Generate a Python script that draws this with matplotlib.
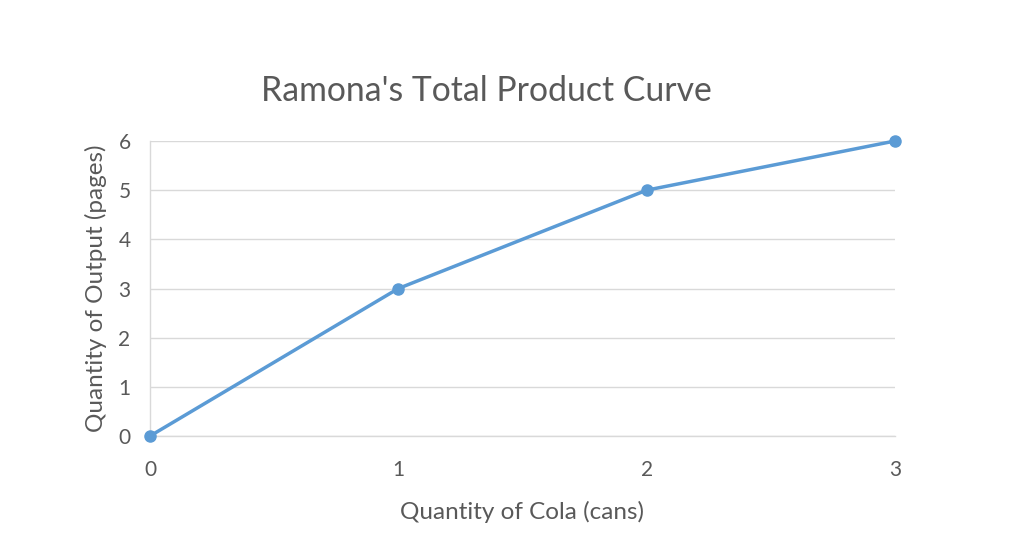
import matplotlib.pyplot as plt

# data
cola_cans = [0, 1, 2, 3]
output_pages = [0, 3, 5, 6]
y_ticks = [0, 1, 2, 3, 4, 5, 6]

line_color = '#5B9BD5'
text_color = '#595959'
grid_color = '#D9D9D9'

plt.rcParams['font.family'] = ['Lato', 'DejaVu Sans']

fig = plt.figure(figsize=(10.24, 5.56), dpi=100)
ax = fig.add_axes([0.1465, 0.2158, 0.7275, 0.5306])

ax.plot(cola_cans, output_pages, color=line_color, linewidth=2.5,
        marker='o', markersize=8, clip_on=False, zorder=3)

ax.set_xlim(0, 3)
ax.set_ylim(0, 6)
ax.set_xticks(cola_cans)
ax.set_yticks(y_ticks)
ax.yaxis.grid(True, color=grid_color, linewidth=1)
ax.set_axisbelow(True)

for side in ['top', 'right']:
    ax.spines[side].set_visible(False)
for side in ['left', 'bottom']:
    ax.spines[side].set_color(grid_color)
    ax.spines[side].set_linewidth(1)

ax.tick_params(axis='both', length=0, labelsize=15, colors=text_color)
ax.tick_params(axis='x', pad=17)
ax.tick_params(axis='y', pad=14)

ax.set_xlabel('Quantity of Cola (cans)', fontsize=17.5, color=text_color, labelpad=15)
ax.set_ylabel('Quantity of Output (pages)', fontsize=17.5, color=text_color, labelpad=8)
fig.text(0.475, 0.837, "Ramona's Total Product Curve", fontsize=24.3,
         color=text_color, ha='center', va='center')

fig.savefig('out.png', dpi=100, facecolor='white')
